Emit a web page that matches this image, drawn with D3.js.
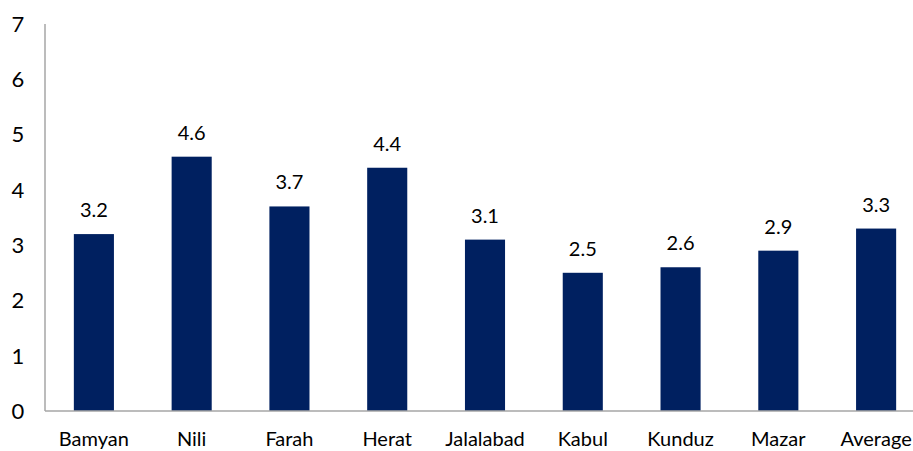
<!DOCTYPE html>
<html>
<head>
<meta charset="utf-8">
<script src="https://cdn.jsdelivr.net/npm/d3@7"></script>
<style>
  body { margin: 0; background: #fff; }
  text { font-family: Lato, "Open Sans", sans-serif; fill: #000; }
</style>
</head>
<body>
<div id="chart"></div>
<script>
// chart values
const categories = ["Bamyan", "Nili", "Farah", "Herat", "Jalalabad", "Kabul", "Kunduz", "Mazar", "Average"];
const values = [3.2, 4.6, 3.7, 4.4, 3.1, 2.5, 2.6, 2.9, 3.3];
const yTicks = [0, 1, 2, 3, 4, 5, 6, 7];

const width = 913, height = 451;
const margin = { left: 45, top: 24, bottom: 40 };
const plotRight = 925; // plot runs slightly past the window edge

const svg = d3.select("#chart")
    .append("svg")
    .attr("width", width)
    .attr("height", height);

const x = d3.scaleBand()
    .domain(categories)
    .range([margin.left, plotRight])
    .paddingInner(0.59)
    .paddingOuter(0.295);

const y = d3.scaleLinear()
    .domain([0, 7])
    .range([height - margin.bottom, margin.top]);

// bars
svg.append("g")
    .selectAll("rect")
    .data(values)
    .enter()
    .append("rect")
    .attr("x", (d, i) => x(categories[i]))
    .attr("y", d => y(d))
    .attr("width", x.bandwidth())
    .attr("height", d => y(0) - y(d))
    .attr("fill", "#002060");

// value labels
svg.append("g")
    .selectAll("text")
    .data(values)
    .enter()
    .append("text")
    .attr("x", (d, i) => x(categories[i]) + x.bandwidth() / 2)
    .attr("y", d => y(d) - 17)
    .attr("text-anchor", "middle")
    .style("font-size", "20px")
    .text(d => d.toFixed(1));

// axes lines
svg.append("line")
    .attr("x1", margin.left).attr("x2", margin.left)
    .attr("y1", y(7)).attr("y2", y(0))
    .attr("stroke", "#a6a6a6").attr("stroke-width", 1.5);
svg.append("line")
    .attr("x1", margin.left).attr("x2", plotRight)
    .attr("y1", y(0)).attr("y2", y(0))
    .attr("stroke", "#a6a6a6").attr("stroke-width", 1.5);

// y tick labels
svg.append("g")
    .selectAll("text")
    .data(yTicks)
    .enter()
    .append("text")
    .attr("x", 18)
    .attr("y", d => y(d))
    .attr("dy", "0.36em")
    .attr("text-anchor", "middle")
    .style("font-size", "22px")
    .text(d => d);

// x category labels
svg.append("g")
    .selectAll("text")
    .data(categories)
    .enter()
    .append("text")
    .attr("x", d => x(d) + x.bandwidth() / 2)
    .attr("y", 446)
    .attr("text-anchor", "middle")
    .style("font-size", "20px")
    .text(d => d);
</script>
</body>
</html>
